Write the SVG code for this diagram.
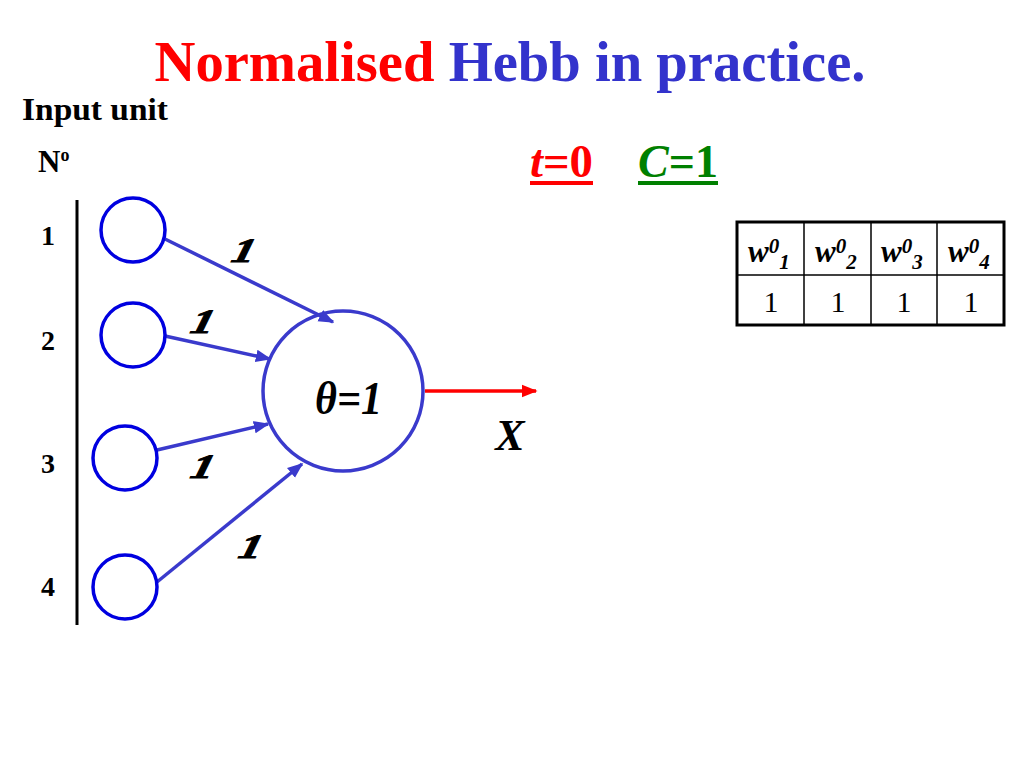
<svg xmlns="http://www.w3.org/2000/svg" width="1024" height="768" viewBox="0 0 1024 768">
<style>
.serif{font-family:"Liberation Serif","Times New Roman",serif}
.in{fill:none;stroke:#0000e0;stroke-width:3.5}
.conn{stroke:#3a3acc;stroke-width:3.5;fill:none}
.w{font-family:"Liberation Serif",serif;font-weight:bold;font-style:italic;font-size:34px;fill:#000;stroke:#000;stroke-width:1}
.num{font-family:"Liberation Serif",serif;font-weight:bold;font-size:28px;fill:#000}
.th{font-family:"Liberation Serif",serif;font-weight:bold;font-style:italic;font-size:31px}
.td{font-family:"Liberation Serif",serif;font-size:30px;text-anchor:middle}
</style>
<defs>
<marker id="ab" viewBox="0 0 10 10" refX="9" refY="5" markerWidth="4.5" markerHeight="4.5" orient="auto" markerUnits="strokeWidth"><path d="M0,1 L10,5 L0,9 z" fill="#3a3acc"/></marker>
<marker id="ar" viewBox="0 0 10 10" refX="9" refY="5" markerWidth="4.5" markerHeight="4.5" orient="auto" markerUnits="strokeWidth"><path d="M0,1 L10,5 L0,9 z" fill="#ff0000"/></marker>
</defs>
<rect width="1024" height="768" fill="#fff"/>
<text x="510" y="81" text-anchor="middle" class="serif" font-weight="bold" font-size="56" textLength="711" lengthAdjust="spacingAndGlyphs"><tspan fill="#ff0000">Normalised</tspan><tspan fill="#3333cc"> Hebb in practice.</tspan></text>
<text x="22" y="120" class="serif" font-weight="bold" font-size="31" textLength="146" lengthAdjust="spacingAndGlyphs">Input unit</text>
<text x="38" y="172" class="serif" font-weight="bold" font-size="31">N<tspan font-size="18" dy="-11">o</tspan></text>
<g id="time">
<text x="530" y="177" class="serif" font-weight="bold" font-size="46" fill="#ff0000" textLength="63" lengthAdjust="spacingAndGlyphs"><tspan font-style="italic">t</tspan>=0</text>
<line x1="530" y1="183" x2="593" y2="183" stroke="#ff0000" stroke-width="4"/>
</g>
<g id="const">
<text x="638" y="177" class="serif" font-weight="bold" font-size="46" fill="#008000" textLength="80" lengthAdjust="spacingAndGlyphs"><tspan font-style="italic">C</tspan>=1</text>
<line x1="638" y1="183" x2="718" y2="183" stroke="#008000" stroke-width="4"/>
</g>
<line x1="77" y1="200" x2="77" y2="625" stroke="#000" stroke-width="3"/>
<text x="48" y="245" class="num" text-anchor="middle">1</text>
<text x="48" y="350" class="num" text-anchor="middle">2</text>
<text x="48" y="473" class="num" text-anchor="middle">3</text>
<text x="48" y="596" class="num" text-anchor="middle">4</text>
<g id="connectors">
<line class="conn" x1="165" y1="239" x2="333" y2="322" marker-end="url(#ab)"/>
<line class="conn" x1="165" y1="336" x2="270" y2="359" marker-end="url(#ab)"/>
<line class="conn" x1="157" y1="450" x2="268" y2="424" marker-end="url(#ab)"/>
<line class="conn" x1="157" y1="582" x2="302" y2="464" marker-end="url(#ab)"/>
<line x1="425" y1="391" x2="536" y2="391" stroke="#ff0000" stroke-width="3.5" marker-end="url(#ar)"/>
<text class="w" transform="translate(230,262) skewX(-14)" textLength="23" lengthAdjust="spacingAndGlyphs">1</text>
<text class="w" transform="translate(189,333) skewX(-14)" textLength="23" lengthAdjust="spacingAndGlyphs">1</text>
<text class="w" transform="translate(189,478) skewX(-14)" textLength="23" lengthAdjust="spacingAndGlyphs">1</text>
<text class="w" transform="translate(237,558) skewX(-14)" textLength="23" lengthAdjust="spacingAndGlyphs">1</text>
</g>
<g id="in1"><circle class="in" cx="133" cy="230" r="32" stroke="#3a3acc"/></g>
<g id="in2"><circle class="in" cx="133" cy="335" r="32"/></g>
<g id="in3"><circle class="in" cx="125" cy="458" r="32"/></g>
<g id="in4"><circle class="in" cx="125" cy="587" r="32"/></g>
<g id="neuron">
<circle cx="343" cy="391" r="80" fill="none" stroke="#3a3acc" stroke-width="3.5"/>
<text x="315" y="414" class="serif" font-style="italic" font-weight="bold" font-size="46" fill="#000" textLength="67" lengthAdjust="spacingAndGlyphs">θ=1</text>
</g>
<text x="510" y="450" text-anchor="middle" class="serif" font-style="italic" font-weight="bold" font-size="44">X</text>
<g id="table">
<rect x="737" y="222" width="267" height="103" fill="none" stroke="#000" stroke-width="3"/>
<line x1="737" y1="275" x2="1004" y2="275" stroke="#000" stroke-width="1.5"/>
<line x1="804" y1="222" x2="804" y2="325" stroke="#000" stroke-width="1.5"/>
<line x1="871" y1="222" x2="871" y2="325" stroke="#000" stroke-width="1.5"/>
<line x1="937" y1="222" x2="937" y2="325" stroke="#000" stroke-width="1.5"/>
<text class="th" x="748" y="262">w<tspan font-size="21" dy="-9">0</tspan><tspan font-size="21" dy="16">1</tspan></text>
<text class="th" x="815" y="262">w<tspan font-size="21" dy="-9">0</tspan><tspan font-size="21" dy="16">2</tspan></text>
<text class="th" x="881" y="262">w<tspan font-size="21" dy="-9">0</tspan><tspan font-size="21" dy="16">3</tspan></text>
<text class="th" x="948" y="262">w<tspan font-size="21" dy="-9">0</tspan><tspan font-size="21" dy="16">4</tspan></text>
<text class="td" x="771" y="312">1</text>
<text class="td" x="838" y="312">1</text>
<text class="td" x="904" y="312">1</text>
<text class="td" x="971" y="312">1</text>
</g>
</svg>
